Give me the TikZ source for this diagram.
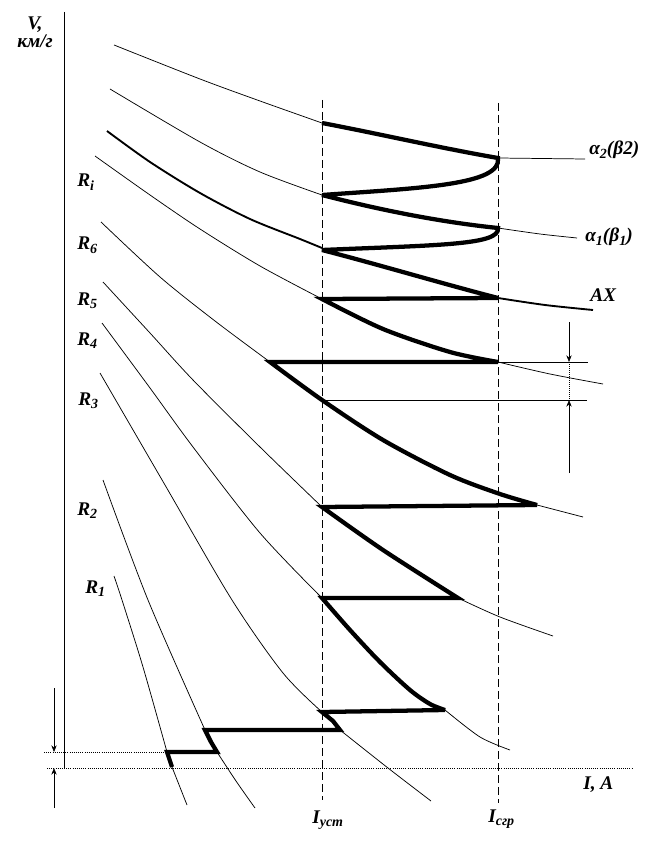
\documentclass[tikz,border=0pt]{standalone}
\usepackage{fontspec}
\setmainfont{Liberation Serif}
\usetikzlibrary{arrows.meta}
\newcommand{\lowsub}[1]{\raisebox{-0.4ex}{\fontsize{10.5}{11}\selectfont #1}}
\begin{document}
\begin{tikzpicture}[x=0.75pt,y=-0.75pt,
  font=\fontsize{14.5}{16}\selectfont\bfseries\itshape,
  thinc/.style={line width=0.55pt},
  medc/.style={line width=1.4pt},
  heavy/.style={line width=3.2pt,line join=miter,miter limit=5},
  guide/.style={line width=0.6pt,dash pattern=on 6pt off 3pt},
  dim/.style={line width=0.5pt},
  tip/.style={-{Stealth[length=5pt,width=4pt]}},
  lab/.style={inner sep=0pt,anchor=base west},
  smoothc/.style={smooth,tension=0.5}]
\useasboundingbox (0,0) rectangle (644,855);

% axes
\draw[thinc] (64,12) -- (64,768);
\draw[line width=0.6pt,densely dotted] (47,768) -- (632,768);
\draw[line width=0.6pt,densely dotted] (44,752) -- (167,752);

% guide verticals
\draw[guide] (322,100) -- (322,800);
\draw[guide] (498,103) -- (498,803);

% thin characteristic curves
\draw[thinc] plot[smoothc] coordinates {(114,45) (200,79) (260,101) (322,123)};
\draw[thinc] (498,158) -- (585,159);
\draw[thinc] plot[smoothc] coordinates {(110,89) (200,142) (260,172) (322,195)};
\draw[thinc] plot[smoothc] coordinates {(498,228) (540,234) (577,238)};
\draw[medc] plot[smoothc] coordinates {(107,131) (150,162) (200,193) (250,219) (300,239) (322,248)};
\draw[medc] plot[smoothc] coordinates {(498,298) (545,305) (593,310)};
\draw[thinc] plot[smoothc] coordinates {(95,156) (150,195) (200,229) (260,266) (322,299)};
\draw[thinc] plot[smoothc] coordinates {(498,362) (550,374) (603,384)};
\draw[thinc] plot[smoothc] coordinates {(101,222) (160,277) (215,321) (270,362)};
\draw[thinc] (537,505) -- (583,517);
\draw[thinc] plot[smoothc] coordinates {(103,282) (150,333) (193,380) (260,447) (322,507)};
\draw[thinc] plot[smoothc] coordinates {(458,598) (500,617) (553,636)};
\draw[thinc] plot[smoothc] coordinates {(102,323) (150,388) (193,447) (260,533) (322,598)};
\draw[thinc] plot[smoothc] coordinates {(445,710) (480,737) (510,750)};
\draw[thinc] plot[smoothc] coordinates {(100,373) (165,485) (232,600) (283,673) (322,712)};
\draw[thinc] plot[smoothc] coordinates {(340,730) (388,768) (431,801)};
\draw[thinc] plot[smoothc] coordinates {(103,480) (148,600) (205,730)};
\draw[thinc] plot[smoothc] coordinates {(217,752) (236,781) (255,808)};
\draw[thinc] plot[smoothc] coordinates {(114,576) (122,600) (143,667) (167,752)};
\draw[thinc] (172,767) -- (187,805);

% heavy operating zigzag
\draw[heavy] (322,123) .. controls (380,134) and (440,148) .. (498,158)
  .. controls (502,185) and (420,188) .. (322,195)
  .. controls (380,210) and (440,222) .. (498,228)
  .. controls (500,245) and (440,245) .. (322,250)
  .. controls (380,265) and (440,283) .. (498,298)
  -- plot[smoothc] coordinates {(322,299) (383,329) (450,352) (498,362)}
  -- plot[smoothc] coordinates {(270,362) (322,400) (383,440) (450,475) (500,494) (537,505)}
  -- plot[smoothc] coordinates {(322,507) (383,550) (458,598)}
  -- plot[smoothc] coordinates {(322,598) (350,630) (380,662) (410,690) (430,704) (445,710)}
  -- (322,712) -- (333,721) -- (340,730)
  -- (205,730) -- (211,742) -- (217,752)
  -- (167,752) -- (172,767);

% right dimension
\draw[thinc] (498,362) -- (588,362);
\draw[thinc] (322,400) -- (587,400);
\draw[dim,tip] (569,322) -- (569,362);
\draw[dim,tip] (569,473) -- (569,400);
\draw[dim,densely dotted] (569,362) -- (569,400);

% left dimension
\draw[dim,tip] (54,688) -- (54,752);
\draw[dim,tip] (54,808) -- (54,768);

% labels
\node[lab] (lv) at (27,30) {V,};
\node[lab] (lkm) at (17,48) {км/г};
\node[lab] (lri) at (77,187) {R\lowsub{i}};
\node[lab] (lr6) at (77,250) {R\lowsub{6}};
\node[lab] (lr5) at (77,305) {R\lowsub{5}};
\node[lab] (lr4) at (77,345) {R\lowsub{4}};
\node[lab] (lr3) at (78,405) {R\lowsub{3}};
\node[lab] (lr2) at (77,515) {R\lowsub{2}};
\node[lab] (lr1) at (85,593) {R\lowsub{1}};
\node[lab] (la2) at (589,155) {α\lowsub{2}(β2)};
\node[lab] (la1) at (585,242) {α\lowsub{1}(β\lowsub{1})};
\node[lab] (lax) at (590,301) {AX};
\node[lab] (lia) at (583,789) {I, A};
\node[lab] (liu) at (312,823) {I\lowsub{уст}};
\node[lab] (lis) at (488,822) {I\lowsub{сгр}};
\end{tikzpicture}
\end{document}
